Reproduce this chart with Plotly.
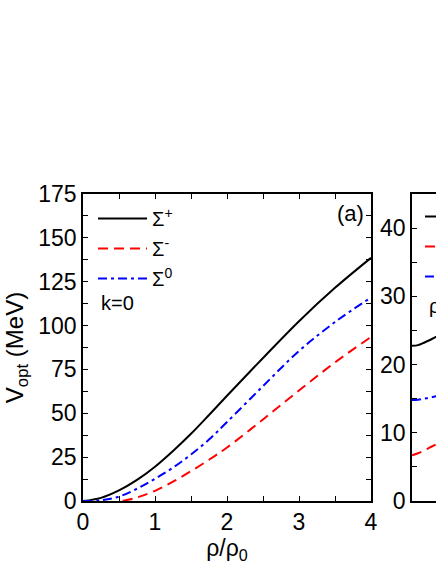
import plotly.graph_objects as go
from plotly.subplots import make_subplots

# panel (a): optical potential vs density, k=0
rho = [0, 0.25, 0.5, 0.75, 1, 1.25, 1.5, 1.75, 2, 2.5, 3, 3.5, 4]
v_plus = [0, 1.8, 6, 12, 19.5, 28.5, 38.3, 49, 60, 81.5, 102.5, 121.5, 138.6]
v_zero = [0, 0.4, 2.5, 7, 12.7, 19, 26.5, 35, 45, 65.5, 85.5, 102, 116]
rho_minus = [0.55, 0.75, 1, 1.25, 1.5, 1.75, 2, 2.5, 3, 3.5, 4]
v_minus = [0, 2, 5.8, 11, 17, 23.5, 30.5, 46.5, 63, 79, 93.5]

# panel (b): only the first slice is visible in the picture
k = [0, 0.1, 0.2, 0.3, 0.4, 0.5]
b_plus = [22.75, 22.85, 23.2, 23.6, 24.05, 24.6]
b_zero = [14.8, 14.85, 15.0, 15.15, 15.35, 15.6]
b_minus = [6.7, 7.0, 7.4, 7.85, 8.3, 8.8]

names = ["Σ<sup>+</sup>", "Σ<sup>-</sup>", "Σ<sup>0</sup>"]
colors = ["black", "red", "blue"]
dashes = ["solid", "10px,6px", "9px,4px,3px,4px"]

FONT = "Liberation Sans, Arial, sans-serif"

fig = make_subplots(rows=1, cols=2)

a_x = [rho, rho_minus, rho]
a_y = [v_plus, v_minus, v_zero]
b_y = [b_plus, b_minus, b_zero]
for i in range(3):
    fig.add_trace(go.Scatter(x=a_x[i], y=a_y[i], mode="lines", name=names[i],
                             line=dict(color=colors[i], width=2, dash=dashes[i], shape="spline"),
                             legendgroup="a%d" % i, legend="legend"), row=1, col=1)
for i in range(3):
    fig.add_trace(go.Scatter(x=k, y=b_y[i], mode="lines", name=names[i],
                             line=dict(color=colors[i], width=2, dash=dashes[i], shape="spline"),
                             legendgroup="b%d" % i, legend="legend2"), row=1, col=2)

W, H = 436, 564
L, R, T, B = 83, 0, 194, 63
pw = W - L - R
ph = H - T - B

def px(xp):
    return (xp - L) / pw

def py(yp):
    return (H - B - yp) / ph

axis_style = dict(showline=True, linecolor="black", linewidth=1.5, showgrid=False,
                  zeroline=False, ticks="inside", ticklen=5, tickwidth=1.2, tickcolor="black",
                  tickfont=dict(family=FONT, size=23, color="black"))

fig.update_xaxes(domain=[0, px(371)], range=[0, 4], dtick=1, mirror="ticks",
                 minor=dict(dtick=0.5, ticks="inside", ticklen=5, tickcolor="black"),
                 title=dict(text="ρ/ρ<sub>0</sub>", font=dict(family=FONT, size=23, color="black"), standoff=4),
                 row=1, col=1, **axis_style)
fig.update_yaxes(range=[0, 175], dtick=25, mirror="ticks",
                 minor=dict(dtick=12.5, ticks="inside", ticklen=5, tickcolor="black"),
                 title=dict(text="V<sub>opt</sub> (MeV)", font=dict(family=FONT, size=24, color="black"), standoff=8),
                 row=1, col=1, **axis_style)

fig.update_xaxes(domain=[px(412), 1], range=[0, 0.4], showline=True, linecolor="black", linewidth=1.5,
                 mirror=True, showgrid=False, zeroline=False, ticks="", showticklabels=False,
                 row=1, col=2)
fig.update_yaxes(range=[0, 45], dtick=10, mirror=False,
                 minor=dict(dtick=5, ticks="inside", ticklen=5, tickcolor="black"),
                 row=1, col=2, **axis_style)

fig.update_layout(
    width=W, height=H,
    margin=dict(l=L, r=R, t=T, b=B, autoexpand=False),
    plot_bgcolor="white", paper_bgcolor="white",
    font=dict(family=FONT, color="black"),
    legend=dict(x=px(93), y=py(199), xanchor="left", yanchor="top",
                bgcolor="rgba(0,0,0,0)", font=dict(family=FONT, size=20),
                tracegroupgap=1, traceorder="grouped", itemwidth=49),
    legend2=dict(x=px(420), y=py(197), xanchor="left", yanchor="top",
                 bgcolor="rgba(0,0,0,0)", font=dict(family=FONT, size=20),
                 tracegroupgap=1, traceorder="grouped", itemwidth=49),
    annotations=[
        dict(text="k=0", x=px(99), y=py(303), xref="paper", yref="paper",
             xanchor="left", yanchor="middle", showarrow=False,
             font=dict(family=FONT, size=20, color="black")),
        dict(text="(a)", x=px(366), y=py(213), xref="paper", yref="paper",
             xanchor="right", yanchor="middle", showarrow=False,
             font=dict(family=FONT, size=22, color="black")),
        dict(text="ρ=ρ<sub>0</sub>", x=px(427), y=py(307), xref="paper", yref="paper",
             xanchor="left", yanchor="middle", showarrow=False,
             font=dict(family=FONT, size=20, color="black")),
    ],
)

fig.write_html("out.html", config={"displayModeBar": False},
               post_script="document.body.style.margin='0px';")
